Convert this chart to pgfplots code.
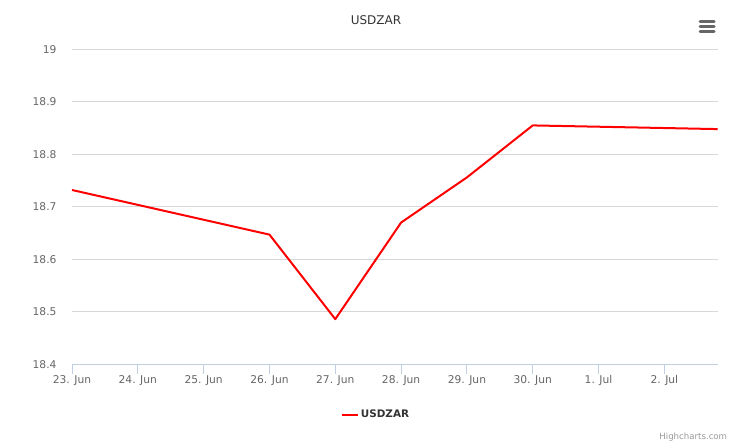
\documentclass[border=0pt]{standalone}
\usepackage{pgfplots}
\pgfplotsset{compat=1.18}
\usepackage{fontspec}
\setmainfont{DejaVu Sans}
\definecolor{gridc}{HTML}{D8D8D8}
\definecolor{axisc}{HTML}{C0D0E0}
\definecolor{labc}{HTML}{666666}
\definecolor{titc}{HTML}{333333}
\definecolor{credc}{HTML}{999999}
\pgfplotstableread{
x y
0 18.732
3 18.647
4 18.486
5 18.670
6 18.756
7 18.855
9.81 18.848
}\usdzar
\begin{document}
\begin{tikzpicture}[x=1pt,y=1pt]
\fill[white] (0,0) rectangle (738,446);
\begin{axis}[
  at={(72pt,81.7pt)}, anchor=south west,
  scale only axis, width=645.7pt, height=315pt,
  xmin=0, xmax=9.81, ymin=18.4, ymax=19,
  xtick={0,1,...,9},
  xticklabels={23. Jun,24. Jun,25. Jun,26. Jun,27. Jun,28. Jun,29. Jun,30. Jun,1. Jul,2. Jul},
  ytick={18.4,18.5,18.6,18.7,18.8,18.9,19},
  yticklabels={18.4,18.5,18.6,18.7,18.8,18.9,19},
  axis x line*=bottom, axis y line*=left,
  x axis line style={color=axisc, line width=1pt, -},
  y axis line style={draw=none},
  ytick style={draw=none},
  tick align=inside, major tick length=9.5pt,
  xtick style={color=axisc, line width=1pt, yshift=-9.5pt},
  ymajorgrids, major grid style={color=gridc, line width=1pt},
  xticklabel style={font=\fontsize{10.7}{12}\selectfont, text=labc, anchor=north, inner sep=0pt, yshift=-11.1pt},
  yticklabel style={font=\fontsize{10.7}{12}\selectfont, text=labc, anchor=east, inner sep=0pt, xshift=-15.3pt},
  legend style={at={(axis description cs:0.4708,-0.16)}, anchor=center, draw=none, fill=none,
    font=\bfseries\fontsize{10.4}{12}\selectfont, text=titc, inner sep=0pt},
  legend image code/.code={\draw[#1, line width=2pt] (0pt,0pt) -- (16pt,0pt);},
  legend cell align=left,
  clip=false,
]
\addplot[color=red, line width=2pt, line join=round] table[x=x,y=y] {\usdzar};
\addlegendentry{USDZAR}
\end{axis}
\node[anchor=base, text=titc, font=\fontsize{12}{14}\selectfont, inner sep=0pt] at (376,421) {USDZAR};
\node[anchor=base east, text=credc, font=\fontsize{8.6}{10}\selectfont, inner sep=0pt] at (727.3,6.5) {Highcharts.com};
\foreach \yy in {424.7,419.7,414.7} {\draw[labc, line width=3pt, line cap=round] (700,\yy) -- (714,\yy);}
\pgfresetboundingbox
\path[use as bounding box] (0,0) rectangle (738,446);
\end{tikzpicture}
\end{document}
